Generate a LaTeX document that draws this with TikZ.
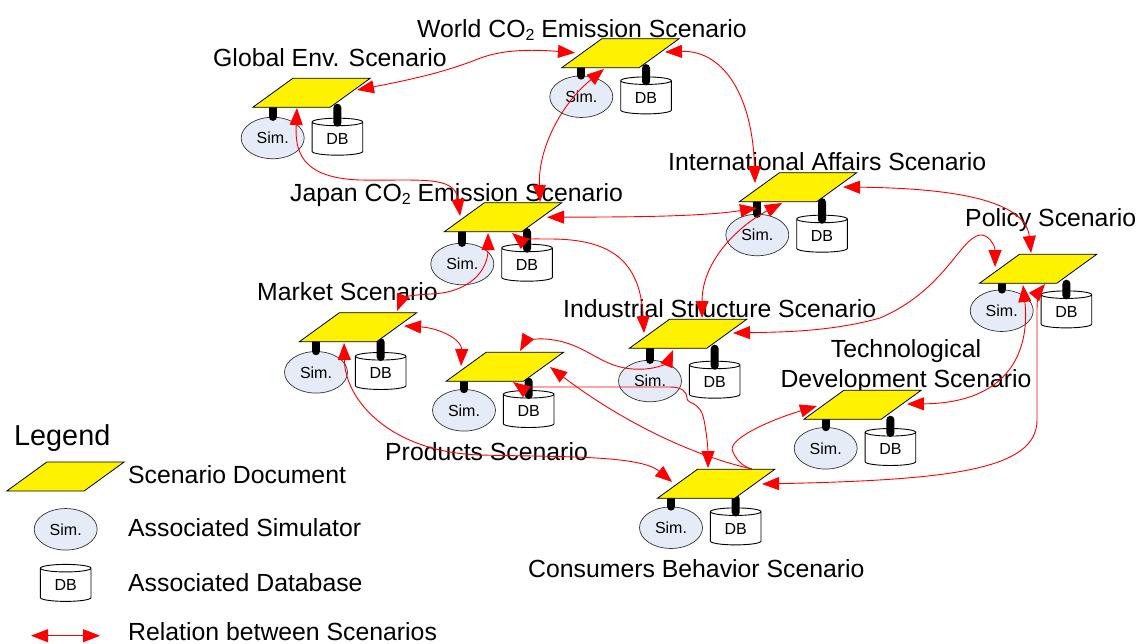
\documentclass[tikz,border=0pt]{standalone}
\usepackage{fontspec}
\setmainfont{Liberation Sans}
\usetikzlibrary{shapes.geometric,arrows.meta}
\pgfdeclarelayer{bg}
\pgfsetlayers{bg,main}
\tikzset{
  para/.style={trapezium,trapezium left angle=44.5,trapezium right angle=135.5,trapezium stretches=true,
    draw=black,line width=.8pt,fill=yellow,minimum width=117.5pt,minimum height=29pt,inner sep=0pt},
  simn/.style={ellipse,draw=black!80,line width=.7pt,fill=simblue,minimum width=63pt,minimum height=41.5pt,inner sep=0pt,
    font=\fontsize{16}{16}\selectfont},
  dbn/.style={cylinder,shape border rotate=90,shape aspect=0.34,draw=black,line width=.9pt,fill=white,
    minimum width=50.6pt,minimum height=37pt,inner sep=0pt,font=\fontsize{16}{16}\selectfont},
  stub/.style={line width=8pt,line cap=round,black},
  rel/.style={red,line width=.9pt,arrows={Triangle[length=17pt,width=13pt]-Triangle[length=17pt,width=13pt]}},
  relone/.style={red,line width=.9pt,arrows={Triangle[length=17pt,width=13pt]-}},
  lab/.style={anchor=base west,inner sep=0pt,font=\fontsize{24.8}{30.6}\selectfont},
}
\definecolor{simblue}{HTML}{E6ECF7}
\newcommand\scen[5]{%
  \node[para] (#1) at (#2+58.75,#3-14.5) {\phantom{x}};
  \begin{pgfonlayer}{bg}
    \node[simn] (#1s) at (#4,#5) {Sim.};
    \node[dbn] (#1d) at (#4+64.7,#5+0.8) {\raisebox{-1.5pt}{DB}};
    \draw[stub] (#1.south -| #1s.center) -- (#1s.north);
    \draw[stub] (#1.south -| #1d.center) -- ([yshift=-5pt]#1d.north);
  \end{pgfonlayer}
}
\newcommand\subtwo{\raisebox{-3.5pt}{\fontsize{16}{16}\selectfont 2}}
\begin{document}
\begin{tikzpicture}[x=1pt,y=-1pt]
\useasboundingbox (0,0) rectangle (1137,643);
% labels
\node[lab] (tgl) at (213,66) {Global Env. Scenario};
\node[lab] (two) at (417,37) {World CO\subtwo{} Emission Scenario};
\node[lab] (tja) at (290,201) {Japan CO\subtwo{} Emission Scenario};
\node[lab] (tia) at (668,170.7) {International Affairs Scenario};
\node[lab] (tpo) at (965,226) {Policy Scenario};
\node[lab] (tis) at (563,317) {Industrial Structure Scenario};
\node[lab] (tma) at (257,300.7) {Market Scenario};
\node[lab] (tpr) at (385,460) {Products Scenario};
\node[lab,anchor=center,align=center] (tte) at (906,366) {Technological\\Development Scenario};
\node[lab] (tco) at (528,577) {Consumers Behavior Scenario};
% scenarios
\scen{gl}{252.7}{107.3}{272.7}{138}
\scen{wo}{561.7}{67.7}{581.3}{96.7}
\scen{ja}{444.3}{231.7}{462.3}{264}
\scen{ia}{739.3}{201.7}{757.3}{235}
\scen{po}{979.3}{283.3}{1001.7}{310.7}
\scen{is}{629.3}{348.3}{650}{381}
\scen{ma}{299.3}{341.7}{316}{372.3}
\scen{pr}{446}{381.3}{464}{410.3}
\scen{te}{803.7}{419.3}{825.7}{448.3}
\scen{co}{657.3}{498.3}{671}{527.7}
% connectors hidden behind the Consumers document
\begin{pgfonlayer}{bg}
\draw[relone] ([shift={(-45.5,1.2)}]te.center) .. controls (770,420) and (725,440) .. (733,452) .. controls (737,462) and (745,467) .. ([shift={(36,-14.5)}]co.center);
\draw[relone] ([shift={(45.3,0.2)}]pr.center) .. controls (620,420) and (690,455) .. ([shift={(36,-14.8)}]co.center);
\end{pgfonlayer}
% connectors
\draw[rel] ([shift={(45.5,-2.8)}]gl.center) .. controls (420,78) and (450,70) .. (478,59) .. controls (505,48) and (540,50) .. ([shift={(-45.5,-0.5)}]wo.center);
\draw[rel] ([shift={(-16.5,15.8)}]wo.center) .. controls (560,105) and (538,150) .. ([shift={(37,-15.2)}]ja.center);
\draw[rel] ([shift={(44.5,-1.2)}]wo.center) .. controls (720,50) and (752,90) .. ([shift={(-43,-4.2)}]ia.center);
\draw[rel] ([shift={(-14.5,15.2)}]gl.center) .. controls (295,150) and (300,178) .. (360,180) .. controls (420,181) and (455,175) .. ([shift={(-43,-1.2)}]ja.center);
\draw[rel] ([shift={(44,0)}]ja.center) .. controls (620,217) and (700,217) .. ([shift={(-41,20.8)}]ia.center);
\draw[rel] ([shift={(9,15.8)}]ja.center) .. controls (518,238) and (530,239) .. (550,239) .. controls (610,239) and (640,260) .. ([shift={(-44,-0.8)}]is.center);
\draw[rel] ([shift={(-15,15.8)}]ja.center) .. controls (488,270) and (470,293) .. (430,294) .. controls (410,295) and (402,298) .. ([shift={(39,-16.2)}]ma.center);
\draw[rel] ([shift={(-16,15.8)}]ia.center) .. controls (740,225) and (702,260) .. ([shift={(14,-15.8)}]is.center);
\draw[rel] ([shift={(45,-0.2)}]ia.center) .. controls (930,188) and (1025,195) .. ([shift={(-7,-15.8)}]po.center);
\draw[rel] ([shift={(-43,-1.8)}]po.center) .. controls (995,245) and (988,234) .. (980,235) .. controls (960,238) and (945,290) .. (880,318) .. controls (830,332) and (780,332) .. ([shift={(45,-0.8)}]is.center);
\draw[rel] ([shift={(-15,16.2)}]po.center) .. controls (1030,350) and (1010,403) .. ([shift={(44.5,-0.8)}]te.center);
\draw[rel] ([shift={(7,15.2)}]po.center) .. controls (1040,290) and (1037,295) .. (1037,310) -- (1037,420) .. controls (1037,470) and (950,480) .. ([shift={(46,0.2)}]co.center);
\draw[rel] ([shift={(15.3,-15.8)}]pr.center) .. controls (525,342) and (535,338) .. (545,339) .. controls (590,342) and (600,372) .. (645,369) .. controls (660,368) and (668,362) .. ([shift={(-15,16.2)}]is.center);
\draw[rel] ([shift={(8.3,15.2)}]pr.center) .. controls (520,387) and (525,387) .. (535,387) -- (670,387) .. controls (682,387) and (687,392) .. (687,398) .. controls (687,405) and (700,400) .. (704,420) .. controls (707,435) and (708,450) .. ([shift={(-8,-15.8)}]co.center);
\draw[rel] ([shift={(46,-1.2)}]ma.center) .. controls (440,328) and (462,340) .. ([shift={(-43.7,-0.8)}]pr.center);
\draw[rel] ([shift={(-14,15.8)}]ma.center) .. controls (345,400) and (390,452) .. (480,455) .. controls (560,457) and (640,455) .. ([shift={(-44,-1.8)}]co.center);
% legend
\node[lab,font=\fontsize{28.8}{30}\selectfont] (tleg) at (14,445) {Legend};
\node[para] (lp) at (65.45,476.5) {\phantom{x}};
\node[simn] (ls) at (65.7,529.3) {Sim.};
\node[dbn] (ld) at (65.7,585) {\raisebox{-1.5pt}{DB}};
\coordinate (la) at (31,635.7);
\coordinate (lb) at (100,635.7);
\draw[rel] (la) -- (lb);
\node[lab] (t1) at (128,483.3) {Scenario Document};
\node[lab] (t2) at (128,536.7) {Associated Simulator};
\node[lab] (t3) at (128,591.7) {Associated Database};
\node[lab] (t4) at (128,640) {Relation between Scenarios};
\end{tikzpicture}
\end{document}
